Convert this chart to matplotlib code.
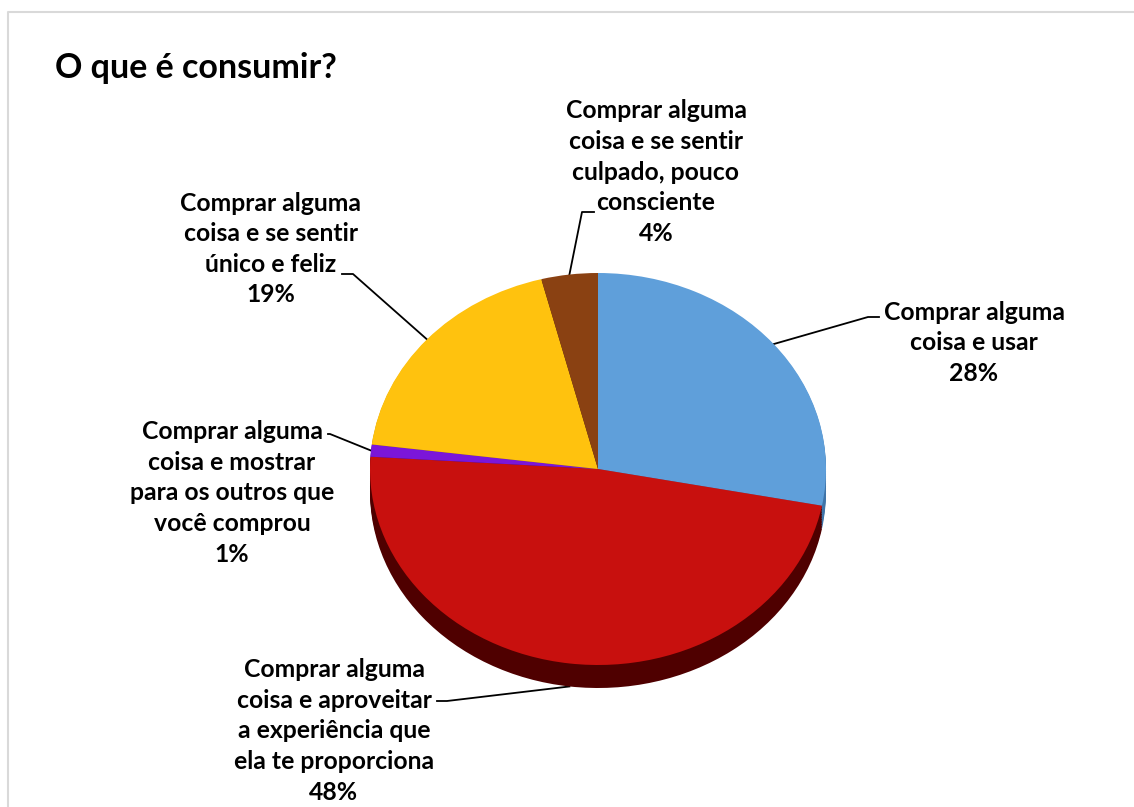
import matplotlib
matplotlib.use("Agg")
import matplotlib.pyplot as plt
import numpy as np

# dados do gráfico (sentido horário a partir do topo)
labels = ["Comprar alguma\ncoisa e usar",
          "Comprar alguma\ncoisa e aproveitar\na experiência que\nela te proporciona",
          "Comprar alguma\ncoisa e mostrar\npara os outros que\nvocê comprou",
          "Comprar alguma\ncoisa e se sentir\núnico e feliz",
          "Comprar alguma\ncoisa e se sentir\nculpado, pouco\nconsciente"]
values = [28, 48, 1, 19, 4]
colors = ["#5f9fda", "#c8100e", "#7b16d9", "#ffc20e", "#8a4112"]
side_colors = ["#3f74a8", "#4f0000", "#3e0a70", "#8a6a00", "#4a2008"]
title = "O que é consumir?"

W, H = 1134, 807
plt.rcParams['font.family'] = ['Lato', 'DejaVu Sans']

fig = plt.figure(figsize=(W / 100, H / 100), dpi=100)
ax = fig.add_axes([0, 0, 1, 1])
ax.set_xlim(0, W)
ax.set_ylim(H, 0)
ax.axis("off")

# moldura
ax.plot([8, 8, W + 5], [H + 5, 12, 12], color="#d9d9d9", lw=1.5)

# geometria da pizza (elipse em pixels)
cx, cy, rx, ry, depth = 598, 469, 228, 196, 23
k = 1.3
pax = fig.add_axes([(cx - k * rx) / W, (H - cy - k * ry) / H,
                    2 * k * rx / W, 2 * k * ry / H])
for off in np.linspace(depth, 1, 10):
    pax.pie(values, colors=side_colors, startangle=90, counterclock=False,
            center=(0, -off / ry), radius=1, wedgeprops=dict(linewidth=0))
pax.pie(values, colors=colors, startangle=90, counterclock=False,
        radius=1, wedgeprops=dict(linewidth=0))
pax.set_aspect("auto")
pax.set_xlim(-k, k)
pax.set_ylim(-k, k)
pax.axis("off")

ax.text(55, 68, title, fontsize=24.5, fontweight="bold", ha="left", va="center")

# rótulos e linhas de chamada
text_pos = [(974, 343), (334, 731), (232, 493), (271, 249), (656, 172)]
elbow = [(868, 317), (447, 701), (330, 434), (353, 274), (582, 212)]
line_end = [(879, 317), (437, 701), (328, 434), (342, 274), (594, 212)]
cum = np.cumsum([0] + values[:-1])
for i, (lab, v) in enumerate(zip(labels, values)):
    ang = np.deg2rad(90 - (cum[i] + v / 2) * 3.6)
    sx = cx + rx * np.cos(ang)
    sy = cy - ry * np.sin(ang)
    if np.sin(ang) < -0.5:
        sy += depth
    ex, ey = elbow[i]
    fx, fy = line_end[i]
    ax.plot([sx, ex, fx], [sy, ey, fy], color="black", lw=1.3)
    ax.text(text_pos[i][0], text_pos[i][1], f"{lab}\n{v}%", fontsize=17.8,
            fontweight="bold", ha="center", va="center", linespacing=1.4)

fig.savefig("out.png", dpi=100)
